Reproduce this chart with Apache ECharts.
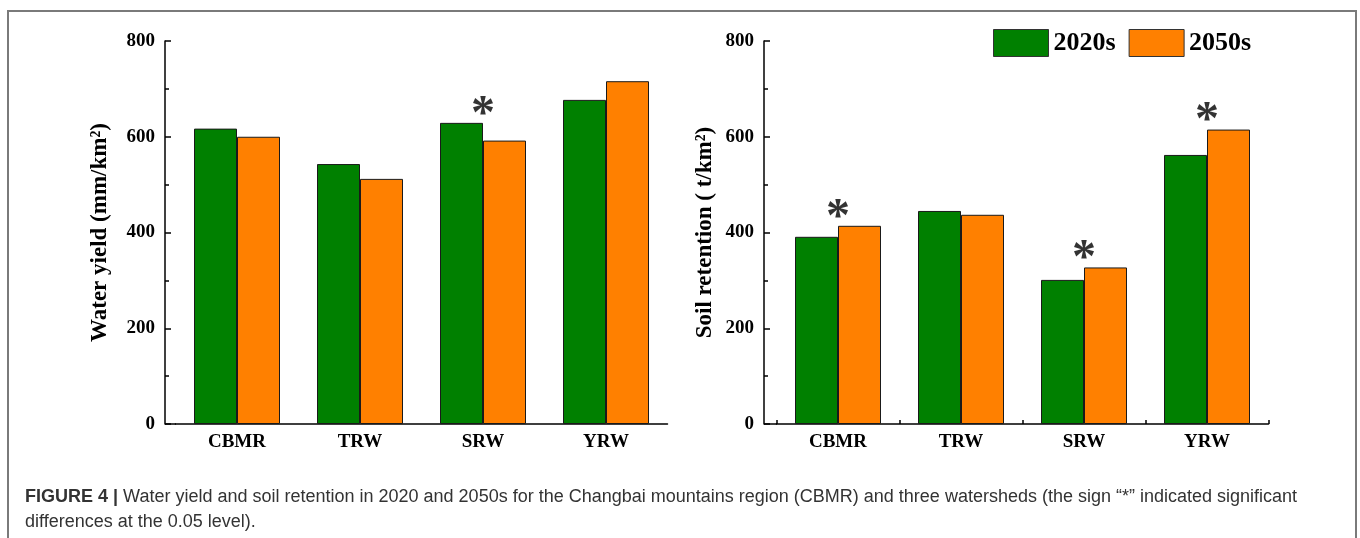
<!DOCTYPE html>
<html>
<head>
<meta charset="utf-8">
<script src="https://cdn.jsdelivr.net/npm/echarts@6/dist/echarts.min.js"></script>
<style>
  html, body { margin: 0; padding: 0; background: #fff; }
  #wrap { position: relative; width: 1360px; height: 538px; overflow: hidden; }
  #chart { position: absolute; left: 0; top: 0; width: 1360px; height: 538px; }
  #frame {
    position: absolute; left: 7px; top: 10px; width: 1346px; height: 540px;
    border: 2px solid #7a7a7a; border-bottom: none; pointer-events: none;
  }
  #caption {
    position: absolute; left: 25px; top: 484px; width: 1325px;
    font-family: 'Liberation Sans', Arial, sans-serif; font-size: 18px;
    line-height: 25px; color: #333; white-space: nowrap;
  }
</style>
</head>
<body>
<div id="wrap">
  <div id="chart"></div>
  <div id="frame"></div>
  <div id="caption"><b>FIGURE 4 |</b> Water yield and soil retention in 2020 and 2050s for the Changbai mountains region (CBMR) and three watersheds (the sign “*” indicated significant<br>differences at the 0.05 level).</div>
</div>
<script>
  // data
  const categories = ['CBMR', 'TRW', 'SRW', 'YRW']
  const seriesNames = ['2020s', '2050s']
  const water2020 = [617, 543, 629, 677]
  const water2050 = [600, 512, 592, 716]
  const soil2020 = [391, 445, 301, 562]
  const soil2050 = [414, 437, 327, 615]
  // 1 = significant difference (asterisk)
  const waterSig = [0, 0, 1, 0]
  const soilSig = [1, 0, 1, 1]
  const yTicks = [0, 200, 400, 600, 800]

  const green = '#008000'
  const orange = '#ff8000'
  const serif = "'Liberation Serif', 'Times New Roman', serif"

  let chart = echarts.init(document.getElementById('chart'), null, { renderer: 'canvas' })

  function starData(sig, a, b) {
    let out = []
    sig.forEach((s, i) => {
      if (s) out.push([categories[i], Math.max(a[i], b[i])])
    })
    return out
  }

  function xAxisOf(idx, withTicks) {
    return {
      type: 'category',
      gridIndex: idx,
      data: categories,
      axisLine: { lineStyle: { color: '#000', width: 1.5 } },
      axisTick: { show: withTicks, inside: true, length: 4, lineStyle: { color: '#000', width: 1.5 } },
      axisLabel: { margin: 9, color: '#000', fontFamily: serif, fontWeight: 'bold', fontSize: 19 },
      splitLine: { show: false }
    }
  }

  function yAxisOf(idx, name, offset, gap) {
    return {
      type: 'value',
      gridIndex: idx,
      min: yTicks[0],
      max: yTicks[yTicks.length - 1],
      interval: 200,
      offset: offset,
      name: name,
      nameLocation: 'middle',
      nameRotate: 90,
      nameGap: gap,
      nameTextStyle: { color: '#000', fontFamily: serif, fontWeight: 'bold', fontSize: 23 },
      axisLine: { show: true, lineStyle: { color: '#000', width: 1.5 } },
      axisTick: { show: true, inside: true, length: 6, lineStyle: { color: '#000', width: 1.5 } },
      minorTick: { show: true, splitNumber: 2, length: 4, lineStyle: { color: '#000', width: 1.5 } },
      axisLabel: { margin: 10, color: '#000', fontFamily: serif, fontWeight: 'bold', fontSize: 19 },
      splitLine: { show: false }
    }
  }

  function barSeries(name, data, color, idx) {
    return {
      type: 'bar',
      name: name,
      xAxisIndex: idx,
      yAxisIndex: idx,
      data: data,
      barWidth: 43,
      barGap: '0%',
      itemStyle: { color: color, borderColor: '#1a1a1a', borderWidth: 1 },
      emphasis: { disabled: true }
    }
  }

  function starSeries(data, idx) {
    return {
      type: 'scatter',
      xAxisIndex: idx,
      yAxisIndex: idx,
      data: data,
      symbolSize: 1,
      itemStyle: { color: 'rgba(0,0,0,0)' },
      label: {
        show: true,
        formatter: '*',
        position: 'top',
        distance: -17,
        color: '#000',
        fontFamily: serif,
        fontWeight: 'bold',
        fontSize: 48
      },
      silent: true
    }
  }

  chart.setOption({
    animation: false,
    backgroundColor: 'transparent',
    grid: [
      { left: 175.5, top: 41, width: 492, height: 383 },
      { left: 776.5, top: 41, width: 492, height: 383 }
    ],
    legend: {
      data: seriesNames,
      left: 993,
      top: 29,
      padding: 0,
      icon: 'rect',
      itemWidth: 55,
      itemHeight: 27,
      itemGap: 13,
      itemStyle: { borderColor: '#333', borderWidth: 1 },
      textStyle: { color: '#000', fontFamily: serif, fontWeight: 'bold', fontSize: 26 }
    },
    xAxis: [xAxisOf(0, false), xAxisOf(1, true)],
    yAxis: [
      yAxisOf(0, 'Water yield (mm/km²)', 10.5, 53),
      yAxisOf(1, 'Soil retention ( t/km²)', 12.5, 47)
    ],
    // short pieces of the x axis lines left of the first category band
    graphic: [
      { type: 'line', shape: { x1: 165, y1: 424, x2: 176, y2: 424 }, style: { stroke: '#000', lineWidth: 1.5 } },
      { type: 'line', shape: { x1: 764, y1: 424, x2: 777, y2: 424 }, style: { stroke: '#000', lineWidth: 1.5 } }
    ],
    series: [
      barSeries(seriesNames[0], water2020, green, 0),
      barSeries(seriesNames[1], water2050, orange, 0),
      barSeries(seriesNames[0], soil2020, green, 1),
      barSeries(seriesNames[1], soil2050, orange, 1),
      starSeries(starData(waterSig, water2020, water2050), 0),
      starSeries(starData(soilSig, soil2020, soil2050), 1)
    ]
  })
</script>
</body>
</html>
